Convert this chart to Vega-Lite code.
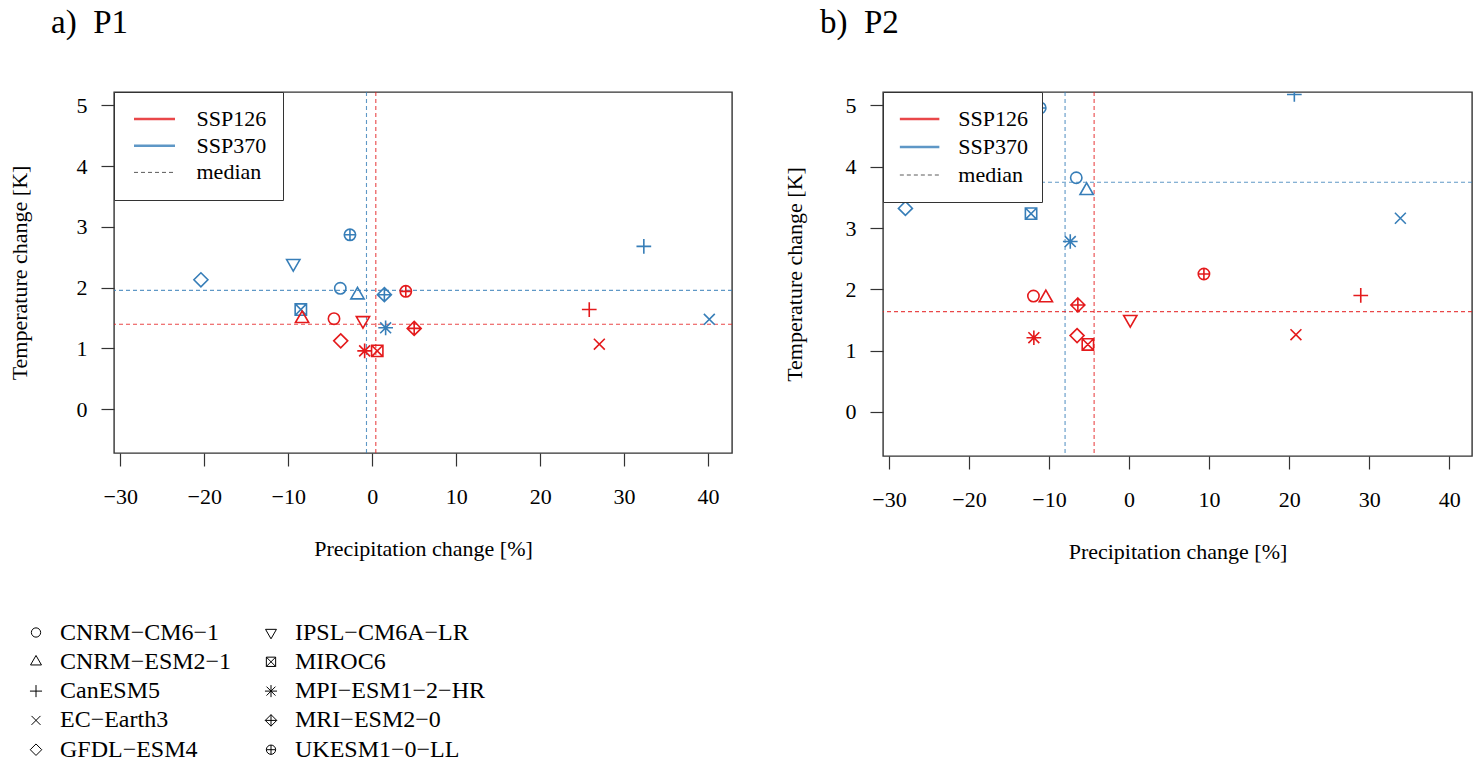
{
  "$schema": "https://vega.github.io/schema/vega-lite/v6.json",
  "background": "white",
  "padding": {"left": 7, "top": 6, "right": 5, "bottom": 0},
  "spacing": 48,
  "datasets": {
    "pts": [
      {"panel": "P1", "scenario": "SSP370", "model": "CNRM-CM6-1", "dp": -3.8, "dt": 1.99},
      {"panel": "P1", "scenario": "SSP370", "model": "CNRM-ESM2-1", "dp": -1.75, "dt": 1.88},
      {"panel": "P1", "scenario": "SSP370", "model": "CanESM5", "dp": 32.35, "dt": 2.68},
      {"panel": "P1", "scenario": "SSP370", "model": "EC-Earth3", "dp": 40.15, "dt": 1.48},
      {"panel": "P1", "scenario": "SSP370", "model": "GFDL-ESM4", "dp": -20.4, "dt": 2.13},
      {"panel": "P1", "scenario": "SSP370", "model": "IPSL-CM6A-LR", "dp": -9.4, "dt": 2.4},
      {"panel": "P1", "scenario": "SSP370", "model": "MIROC6", "dp": -8.5, "dt": 1.64},
      {"panel": "P1", "scenario": "SSP370", "model": "MPI-ESM1-2-HR", "dp": 1.6, "dt": 1.34},
      {"panel": "P1", "scenario": "SSP370", "model": "MRI-ESM2-0", "dp": 1.45, "dt": 1.885},
      {"panel": "P1", "scenario": "SSP370", "model": "UKESM1-0-LL", "dp": -2.65, "dt": 2.87},
      {"panel": "P1", "scenario": "SSP126", "model": "CNRM-CM6-1", "dp": -4.55, "dt": 1.49},
      {"panel": "P1", "scenario": "SSP126", "model": "CNRM-ESM2-1", "dp": -8.35, "dt": 1.49},
      {"panel": "P1", "scenario": "SSP126", "model": "CanESM5", "dp": 25.85, "dt": 1.64},
      {"panel": "P1", "scenario": "SSP126", "model": "EC-Earth3", "dp": 27.05, "dt": 1.07},
      {"panel": "P1", "scenario": "SSP126", "model": "GFDL-ESM4", "dp": -3.75, "dt": 1.125},
      {"panel": "P1", "scenario": "SSP126", "model": "IPSL-CM6A-LR", "dp": -1.1, "dt": 1.46},
      {"panel": "P1", "scenario": "SSP126", "model": "MIROC6", "dp": 0.6, "dt": 0.96},
      {"panel": "P1", "scenario": "SSP126", "model": "MPI-ESM1-2-HR", "dp": -0.9, "dt": 0.96},
      {"panel": "P1", "scenario": "SSP126", "model": "MRI-ESM2-0", "dp": 5.0, "dt": 1.33},
      {"panel": "P1", "scenario": "SSP126", "model": "UKESM1-0-LL", "dp": 4.0, "dt": 1.94},
      {"panel": "P2", "scenario": "SSP370", "model": "CNRM-CM6-1", "dp": -6.6, "dt": 3.82},
      {"panel": "P2", "scenario": "SSP370", "model": "CNRM-ESM2-1", "dp": -5.3, "dt": 3.61},
      {"panel": "P2", "scenario": "SSP370", "model": "CanESM5", "dp": 20.65, "dt": 5.18},
      {"panel": "P2", "scenario": "SSP370", "model": "EC-Earth3", "dp": 33.9, "dt": 3.16},
      {"panel": "P2", "scenario": "SSP370", "model": "GFDL-ESM4", "dp": -27.95, "dt": 3.32},
      {"panel": "P2", "scenario": "SSP370", "model": "MIROC6", "dp": -12.25, "dt": 3.235},
      {"panel": "P2", "scenario": "SSP370", "model": "MPI-ESM1-2-HR", "dp": -7.35, "dt": 2.78},
      {"panel": "P2", "scenario": "SSP370", "model": "UKESM1-0-LL", "dp": -11.1, "dt": 4.96},
      {"panel": "P2", "scenario": "SSP126", "model": "CNRM-CM6-1", "dp": -11.95, "dt": 1.89},
      {"panel": "P2", "scenario": "SSP126", "model": "CNRM-ESM2-1", "dp": -10.4, "dt": 1.86},
      {"panel": "P2", "scenario": "SSP126", "model": "CanESM5", "dp": 28.95, "dt": 1.9},
      {"panel": "P2", "scenario": "SSP126", "model": "EC-Earth3", "dp": 20.85, "dt": 1.26},
      {"panel": "P2", "scenario": "SSP126", "model": "GFDL-ESM4", "dp": -6.5, "dt": 1.245},
      {"panel": "P2", "scenario": "SSP126", "model": "IPSL-CM6A-LR", "dp": 0.15, "dt": 1.51},
      {"panel": "P2", "scenario": "SSP126", "model": "MIROC6", "dp": -5.15, "dt": 1.1},
      {"panel": "P2", "scenario": "SSP126", "model": "MPI-ESM1-2-HR", "dp": -11.9, "dt": 1.21},
      {"panel": "P2", "scenario": "SSP126", "model": "MRI-ESM2-0", "dp": -6.4, "dt": 1.745},
      {"panel": "P2", "scenario": "SSP126", "model": "UKESM1-0-LL", "dp": 9.35, "dt": 2.25}
    ],
    "med": [
      {"panel": "P1", "scenario": "SSP370", "mp": -0.68, "mt": 1.956},
      {"panel": "P1", "scenario": "SSP126", "mp": 0.43, "mt": 1.398},
      {"panel": "P2", "scenario": "SSP370", "mp": -8.0, "mt": 3.747},
      {"panel": "P2", "scenario": "SSP126", "mp": -4.37, "mt": 1.636}
    ]
  },
  "resolve": {"scale": {"color": "independent", "shape": "independent"}},
  "hconcat": [
    {
      "title": {"text": "a)\u00a0\u00a0P1"},
      "width": 618,
      "height": 361,
      "layer": [
        {
          "mark": {"type": "rule", "color": "#555", "strokeWidth": 1.2},
          "encoding": {"x": {"datum": 0, "type": "quantitative", "scale": {"domain": [-30.75, 42.85], "nice": false, "zero": false}}}
        },
        {
          "mark": {"type": "rule", "color": "#555", "strokeWidth": 1.2},
          "encoding": {"y": {"datum": 0, "type": "quantitative", "scale": {"domain": [-0.72, 5.22], "nice": false, "zero": false}}}
        },
        {
          "data": {"name": "med"},
          "transform": [{"filter": "datum.panel === 'P1'"}],
          "mark": {"type": "rule", "strokeWidth": 1.1, "strokeDash": [4, 3], "opacity": 0.8},
          "encoding": {
            "x": {"field": "mp", "type": "quantitative", "scale": {"domain": [-30.75, 42.85], "nice": false, "zero": false}},
            "color": {"field": "scenario", "type": "nominal", "scale": {"domain": ["SSP126", "SSP370", "median"], "range": ["#E41A1C", "#377EB8", "#333333"]}}
          }
        },
        {
          "data": {"name": "med"},
          "transform": [{"filter": "datum.panel === 'P1'"}],
          "mark": {"type": "rule", "strokeWidth": 1.1, "strokeDash": [4, 3], "opacity": 0.8},
          "encoding": {
            "y": {"field": "mt", "type": "quantitative", "scale": {"domain": [-0.72, 5.22], "nice": false, "zero": false}},
            "color": {"field": "scenario", "type": "nominal", "scale": {"domain": ["SSP126", "SSP370", "median"], "range": ["#E41A1C", "#377EB8", "#333333"]}}
          }
        },
        {
          "data": {"name": "pts"},
          "transform": [{"filter": "datum.panel === 'P1'"}],
          "mark": {"type": "point", "filled": false, "strokeWidth": 1.6, "size": 196, "opacity": 1, "clip": true},
          "encoding": {
            "x": {"field": "dp", "type": "quantitative", "title": "Precipitation change [%]", "scale": {"domain": [-30.75, 42.85], "nice": false, "zero": false}, "axis": {"values": [-30, -20, -10, 0, 10, 20, 30, 40]}},
            "y": {"field": "dt", "type": "quantitative", "title": "Temperature change [K]", "scale": {"domain": [-0.72, 5.22], "nice": false, "zero": false}, "axis": {"values": [0, 1, 2, 3, 4, 5], "format": "d", "titleX": -95}},
            "color": {
              "field": "scenario", "type": "nominal",
              "scale": {"domain": ["SSP126", "SSP370", "median"], "range": ["#E41A1C", "#377EB8", "#333333"]},
              "legend": {
                "title": null, "orient": "top-left", "offset": 0, "padding": 16,
                "strokeColor": "#333", "fillColor": "white",
                "symbolType": "stroke", "symbolSize": 1681, "clipHeight": 22, "symbolOffset": 13.5,
                "symbolDash": {"expr": "datum.value === 'median' ? [4, 3] : [1, 0]"},
                "symbolStrokeWidth": {"expr": "datum.value === 'median' ? 1 : 2.6"},
                "symbolOpacity": 1,
                "labelFontSize": 22, "labelOffset": 31, "rowPadding": 4.7
              }
            },
            "shape": {
              "field": "model", "type": "nominal",
              "scale": {
                "domain": ["CNRM-CM6-1", "CNRM-ESM2-1", "CanESM5", "EC-Earth3", "GFDL-ESM4", "IPSL-CM6A-LR", "MIROC6", "MPI-ESM1-2-HR", "MRI-ESM2-0", "UKESM1-0-LL"],
                "range": [
                  "M0.81,0A0.81,0.81,0,1,1,-0.81,0A0.81,0.81,0,1,1,0.81,0Z",
                  "M0,-1.1L0.95,0.55L-0.95,0.55Z",
                  "M-1.05,0L1.05,0M0,-1.05L0,1.05",
                  "M-0.78,-0.78L0.78,0.78M-0.78,0.78L0.78,-0.78",
                  "M0,-1L1,0L0,1L-1,0Z",
                  "M0,1.1L0.95,-0.55L-0.95,-0.55Z",
                  "M-0.81,-0.81L0.81,-0.81L0.81,0.81L-0.81,0.81ZM-0.81,-0.81L0.81,0.81M-0.81,0.81L0.81,-0.81",
                  "M-1.05,0L1.05,0M0,-1.05L0,1.05M-0.78,-0.78L0.78,0.78M-0.78,0.78L0.78,-0.78",
                  "M0,-1L1,0L0,1L-1,0ZM-1,0L1,0M0,-1L0,1",
                  "M0.81,0A0.81,0.81,0,1,1,-0.81,0A0.81,0.81,0,1,1,0.81,0ZM-0.81,0L0.81,0M0,-0.81L0,0.81"
                ]
              },
              "legend": {
                "title": null, "orient": "none", "legendX": -90, "legendY": 528.5, "padding": 0,
                "columns": 2, "columnPadding": 27, "rowPadding": 5.3,
                "symbolSize": 132, "symbolStrokeWidth": 1, "symbolStrokeColor": "black", "symbolFillColor": "transparent",
                "labelFontSize": 24, "labelOffset": 12, "labelLimit": 400,
                "labelExpr": "replace(datum.label, /-/g, '\u2212')"
              }
            }
          }
        }
      ]
    },
    {
      "title": {"text": "b)\u00a0\u00a0P2"},
      "width": 589,
      "height": 364,
      "layer": [
        {
          "mark": {"type": "rule", "color": "#555", "strokeWidth": 1.2},
          "encoding": {"x": {"datum": 0, "type": "quantitative", "scale": {"domain": [-30.75, 42.85], "nice": false, "zero": false}}}
        },
        {
          "mark": {"type": "rule", "color": "#555", "strokeWidth": 1.2},
          "encoding": {"y": {"datum": 0, "type": "quantitative", "scale": {"domain": [-0.72, 5.22], "nice": false, "zero": false}}}
        },
        {
          "data": {"name": "med"},
          "transform": [{"filter": "datum.panel === 'P2'"}],
          "mark": {"type": "rule", "strokeWidth": 1.1, "strokeDash": [4, 3], "opacity": 0.8},
          "encoding": {
            "x": {"field": "mp", "type": "quantitative", "scale": {"domain": [-30.75, 42.85], "nice": false, "zero": false}},
            "color": {"field": "scenario", "type": "nominal", "scale": {"domain": ["SSP126", "SSP370", "median"], "range": ["#E41A1C", "#377EB8", "#333333"]}}
          }
        },
        {
          "data": {"name": "med"},
          "transform": [{"filter": "datum.panel === 'P2'"}],
          "mark": {"type": "rule", "strokeWidth": 1.1, "strokeDash": [4, 3], "opacity": 0.8},
          "encoding": {
            "y": {"field": "mt", "type": "quantitative", "scale": {"domain": [-0.72, 5.22], "nice": false, "zero": false}},
            "color": {"field": "scenario", "type": "nominal", "scale": {"domain": ["SSP126", "SSP370", "median"], "range": ["#E41A1C", "#377EB8", "#333333"]}}
          }
        },
        {
          "data": {"name": "pts"},
          "transform": [{"filter": "datum.panel === 'P2'"}],
          "mark": {"type": "point", "filled": false, "strokeWidth": 1.6, "size": 196, "opacity": 1, "clip": true},
          "encoding": {
            "x": {"field": "dp", "type": "quantitative", "title": "Precipitation change [%]", "scale": {"domain": [-30.75, 42.85], "nice": false, "zero": false}, "axis": {"values": [-30, -20, -10, 0, 10, 20, 30, 40]}},
            "y": {"field": "dt", "type": "quantitative", "title": "Temperature change [K]", "scale": {"domain": [-0.72, 5.22], "nice": false, "zero": false}, "axis": {"values": [0, 1, 2, 3, 4, 5], "format": "d", "titleX": -89}},
            "color": {
              "field": "scenario", "type": "nominal",
              "scale": {"domain": ["SSP126", "SSP370", "median"], "range": ["#E41A1C", "#377EB8", "#333333"]},
              "legend": {
                "title": null, "orient": "top-left", "offset": 0, "padding": 13,
                "strokeColor": "#333", "fillColor": "white",
                "symbolType": "stroke", "symbolSize": 1560, "clipHeight": 28, "symbolOffset": 12.6,
                "symbolDash": {"expr": "datum.value === 'median' ? [4, 3] : [1, 0]"},
                "symbolStrokeWidth": {"expr": "datum.value === 'median' ? 1 : 2.6"},
                "symbolOpacity": 1,
                "labelFontSize": 22, "labelOffset": 27.7, "rowPadding": 0
              }
            },
            "shape": {
              "field": "model", "type": "nominal",
              "scale": {
                "domain": ["CNRM-CM6-1", "CNRM-ESM2-1", "CanESM5", "EC-Earth3", "GFDL-ESM4", "IPSL-CM6A-LR", "MIROC6", "MPI-ESM1-2-HR", "MRI-ESM2-0", "UKESM1-0-LL"],
                "range": [
                  "M0.81,0A0.81,0.81,0,1,1,-0.81,0A0.81,0.81,0,1,1,0.81,0Z",
                  "M0,-1.1L0.95,0.55L-0.95,0.55Z",
                  "M-1.05,0L1.05,0M0,-1.05L0,1.05",
                  "M-0.78,-0.78L0.78,0.78M-0.78,0.78L0.78,-0.78",
                  "M0,-1L1,0L0,1L-1,0Z",
                  "M0,1.1L0.95,-0.55L-0.95,-0.55Z",
                  "M-0.81,-0.81L0.81,-0.81L0.81,0.81L-0.81,0.81ZM-0.81,-0.81L0.81,0.81M-0.81,0.81L0.81,-0.81",
                  "M-1.05,0L1.05,0M0,-1.05L0,1.05M-0.78,-0.78L0.78,0.78M-0.78,0.78L0.78,-0.78",
                  "M0,-1L1,0L0,1L-1,0ZM-1,0L1,0M0,-1L0,1",
                  "M0.81,0A0.81,0.81,0,1,1,-0.81,0A0.81,0.81,0,1,1,0.81,0ZM-0.81,0L0.81,0M0,-0.81L0,0.81"
                ]
              },
              "legend": null
            }
          }
        }
      ]
    }
  ],
  "config": {
    "font": "Liberation Serif",
    "view": {"stroke": "#333", "strokeWidth": 1.4},
    "axis": {
      "grid": false, "domain": false,
      "labelFont": "Liberation Serif", "labelFontSize": 22, "labelColor": "black",
      "titleFont": "Liberation Serif", "titleFontSize": 22, "titleFontWeight": "normal", "titleColor": "black",
      "tickSize": 13, "tickColor": "#333", "tickWidth": 1.2
    },
    "axisX": {"labelPadding": 20, "titleY": 102, "titleBaseline": "alphabetic"},
    "axisY": {"labelPadding": 14, "titleBaseline": "middle"},
    "legend": {"labelFont": "Liberation Serif", "labelColor": "black"},
    "title": {"font": "Liberation Serif", "fontSize": 33, "fontWeight": "normal", "color": "black", "anchor": "start", "frame": "group", "baseline": "alphabetic", "offset": 51, "dx": -63}
  }
}
